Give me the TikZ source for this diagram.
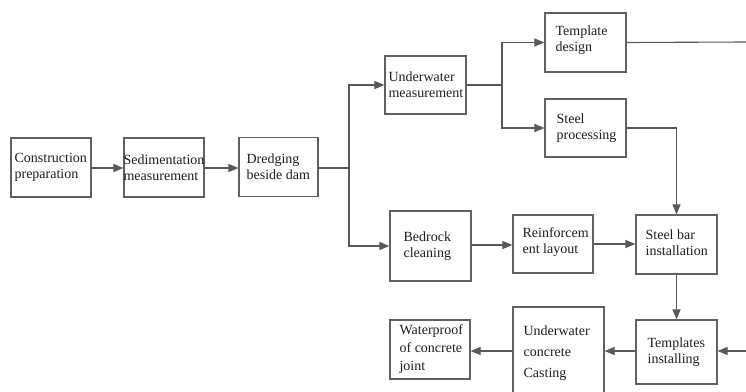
\documentclass[tikz,border=0pt]{standalone}
\usepackage{fontspec}
\setmainfont{Liberation Serif}
\usetikzlibrary{arrows.meta}
\begin{document}
\begin{tikzpicture}[x=1pt,y=-1pt,
  box/.style={draw=black!62, line width=1.2pt, fill=white, rectangle, inner sep=0pt},
  txt/.style={anchor=west, inner sep=0pt, align=left,
    font=\fontsize{14}{16}\selectfont, text=black!88},
  arr/.style={draw=black!65, line width=1.1pt, -{Triangle[length=10pt,width=8pt]}},
  ln/.style={draw=black!65, line width=1.1pt}]
\useasboundingbox[fill=white] (0,0) rectangle (746,391);
% boxes
\node[box, minimum width=80pt, minimum height=59pt] (cp) at (51,167.5) {};
\node[box, minimum width=80pt, minimum height=59pt] (sm) at (164,167.5) {};
\node[box, minimum width=79pt, minimum height=59pt] (dd) at (278.5,167) {};
\node[box, minimum width=81pt, minimum height=58pt] (uw) at (425.5,85) {};
\node[box, minimum width=81pt, minimum height=59pt] (td) at (585.5,42.5) {};
\node[box, minimum width=81pt, minimum height=58pt] (sp) at (585.5,128) {};
\node[box, minimum width=81pt, minimum height=70pt] (bc) at (430.5,246) {};
\node[box, minimum width=80pt, minimum height=58pt] (rl) at (553,244) {};
\node[box, minimum width=81pt, minimum height=59pt] (sb) at (676.5,244.5) {};
\node[box, minimum width=81pt, minimum height=64pt] (ti) at (676.5,352) {};
\node[box, minimum width=91pt, minimum height=92pt] (uc) at (558.5,353) {};
\node[box, minimum width=80pt, minimum height=59pt] (wp) at (430,349.5) {};
% texts
\node[txt] (cp-t) at ([xshift=4pt]cp.west) {Construction\\preparation};
\node[txt] (sm-t) at ([xshift=0pt]sm.west) {Sedimentation\\measurement};
\node[txt] (dd-t) at ([xshift=8pt]dd.west) {Dredging\\beside dam};
\node[txt] (uw-t) at ([xshift=4pt]uw.west) {Underwater\\measurement};
\node[txt] (td-t) at ([xshift=11pt,yshift=2pt]td.west) {Template\\design};
\node[txt] (sp-t) at ([xshift=12pt]sp.west) {Steel\\processing};
\node[txt] (bc-t) at ([xshift=14pt]bc.west) {Bedrock\\cleaning};
\node[txt] (rl-t) at ([xshift=10pt,yshift=2pt]rl.west) {Reinforcem\\ent layout};
\node[txt] (sb-t) at ([xshift=10pt,yshift=2pt]sb.west) {Steel bar\\installation};
\node[txt] (ti-t) at ([xshift=12pt]ti.west) {Templates\\installing};
\node[txt, font=\fontsize{14}{21}\selectfont] (uc-t) at ([xshift=11pt]uc.west) {Underwater\\concrete\\Casting};
\node[txt, font=\fontsize{14}{18}\selectfont] (wp-t) at ([xshift=10pt]wp.west) {Waterproof\\of concrete\\joint};
% connectors
\coordinate (split1) at (349,168);
\coordinate (split2) at (502,85);
\coordinate (edgeT) at (746,42);
\coordinate (edgeB) at (746,351);
\draw[arr] (cp.east |- 0,168) -- (sm.west |- 0,168);
\draw[arr] (sm.east |- 0,168) -- (dd.west |- 0,168);
\draw[ln] (dd.east |- split1) -- (split1);
\draw[arr] (split1) |- (uw.west);
\draw[arr] (split1) |- (bc.west);
\draw[ln] (uw.east) -- (split2);
\draw[arr] (split2) |- (td.west);
\draw[arr] (split2) |- (sp.west);
\draw[ln] (td.east) -- (edgeT);
\draw[arr] (sp.east) -| (sb.north);
\draw[arr] (bc.east |- 0,245) -- (rl.west |- 0,245);
\draw[arr] (rl.east |- 0,244) -- (sb.west |- 0,244);
\draw[arr] (sb.south) -- (ti.north);
\draw[arr] (edgeB) -- (ti.east |- edgeB);
\draw[arr] (ti.west |- 0,351) -- (uc.east |- 0,351);
\draw[arr] (uc.west |- 0,351) -- (wp.east |- 0,351);
\end{tikzpicture}
\end{document}
